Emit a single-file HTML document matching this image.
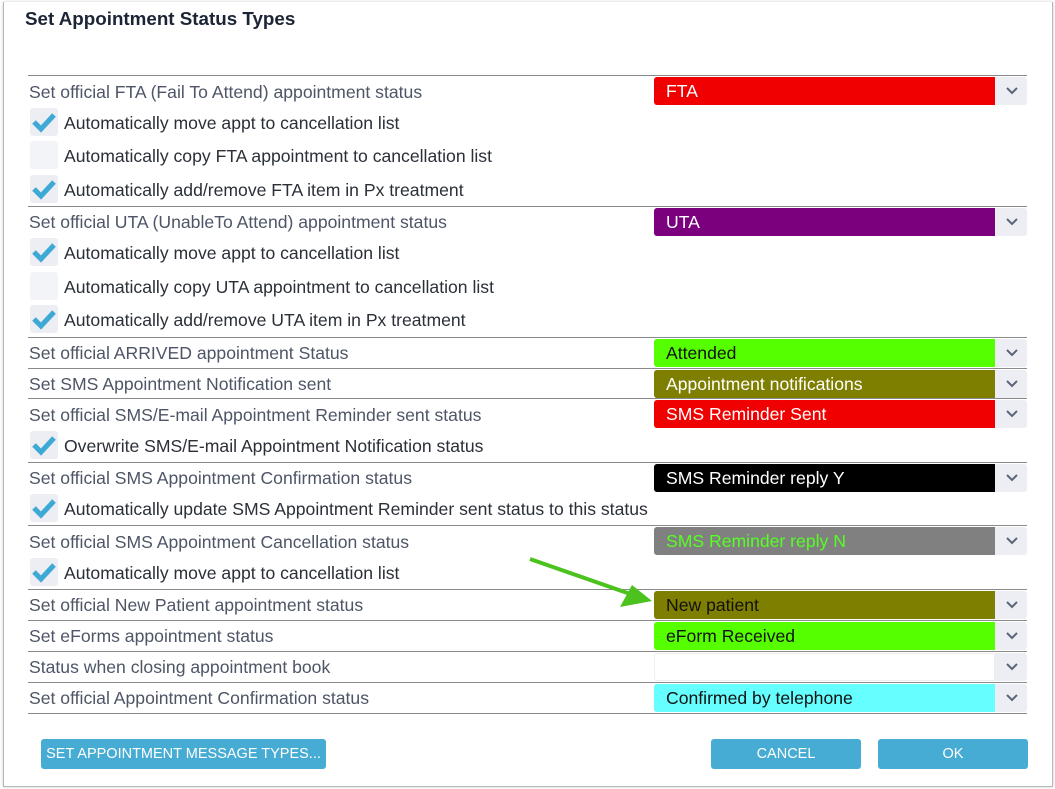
<!DOCTYPE html>
<html><head><meta charset="utf-8">
<style>
body{margin:0;width:1055px;height:789px;background:#fff;position:relative;overflow:hidden;font-family:"Liberation Sans",sans-serif;}
.dlg{position:absolute;left:3px;top:2px;width:1048px;height:784px;border:1px solid #b8b8b8;border-top:none;box-shadow:0 0 3px #ccc;}
.title{position:absolute;left:25px;top:8px;font-size:18.8px;font-weight:bold;color:#1b2535;}
.line{position:absolute;left:28px;width:999px;height:1px;background:#8a8a8a;}
.lbl{position:absolute;left:29px;font-size:17.6px;color:#4d5566;line-height:20px;white-space:nowrap;}
.cb{position:absolute;left:30px;width:28px;height:28px;background:#eceef3;border-radius:3px;}
.cbl{position:absolute;left:64px;font-size:17.6px;color:#2a2f38;line-height:20px;white-space:nowrap;}
.sel{position:absolute;left:654px;width:373px;height:28px;background:#eceef3;border-radius:3px;}
.sv{position:absolute;left:0;top:0;width:341px;height:28px;border-radius:3px 0 0 3px;font-size:17.6px;line-height:28px;padding-left:12px;box-sizing:border-box;white-space:nowrap;}
.arr{position:absolute;left:351px;top:9px;}
.btn{position:absolute;top:739px;height:30px;background:#46acd3;color:#fff;border-radius:3px;font-size:14.5px;text-align:center;line-height:30px;}
</style></head><body>
<div class="dlg"></div>
<div class="title">Set Appointment Status Types</div>
<div id="c"></div>
<svg style="position:absolute;left:0;top:0" width="1055" height="789">
<line x1="530" y1="559" x2="636" y2="596" stroke="#4cc21e" stroke-width="4"/>
<polygon points="652,601 620,607 632,585" fill="#4cc21e"/>
</svg>
<div class="btn" style="left:41px;width:285px">SET APPOINTMENT MESSAGE TYPES...</div>
<div class="btn" style="left:711px;width:150px">CANCEL</div>
<div class="btn" style="left:878px;width:150px">OK</div>
<script>
const c=document.getElementById('c');
const rows=[
 [75,92,'Set official FTA (Fail To Attend) appointment status','FTA','#f00000','#fff'],
 [206,222,'Set official UTA (UnableTo Attend) appointment status','UTA','#7a007d','#fff'],
 [337,353,'Set official ARRIVED appointment Status','Attended','#55ff00','#111'],
 [368,384,'Set SMS Appointment Notification sent','Appointment notifications','#7e7e00','#fff'],
 [398,415,'Set official SMS/E-mail Appointment Reminder sent status','SMS Reminder Sent','#f00000','#fff'],
 [462,478,'Set official SMS Appointment Confirmation status','SMS Reminder reply Y','#000','#fff'],
 [525,542,'Set official SMS Appointment Cancellation status','SMS Reminder reply N','#808080','#55ff22'],
 [589,605,'Set official New Patient appointment status','New patient','#7e7e00','#111'],
 [620,636,'Set eForms appointment status','eForm Received','#55ff00','#111'],
 [651,667,'Status when closing appointment book','','#fff','#111'],
 [682,698,'Set official Appointment Confirmation status','Confirmed by telephone','#66ffff','#111']
];
rows.forEach(r=>{
 const l=document.createElement('div');l.className='line';l.style.top=r[0]+'px';
 
 
 c.appendChild(l);
 const t=document.createElement('div');t.className='lbl';t.style.top=(r[1]-10)+'px';t.textContent=r[2];
 
 
 c.appendChild(t);
 const s=document.createElement('div');s.className='sel';s.style.top=(r[0]+2)+'px';
 
 
 s.innerHTML='<div class="sv" style="background:'+r[4]+';color:'+r[5]+(r[4]=='#fff'?';border:1px solid #eee':'')+'">'+r[3]+'</div><svg class="arr" width="14" height="10"><path d="M2 2 L7 7 L12 2" stroke="#5c6578" stroke-width="2" fill="none"/></svg>';
 c.appendChild(s);
});
const bl=document.createElement('div');bl.className='line';bl.style.top='713px';


c.appendChild(bl);
const cbs=[
 [123,true,'Automatically move appt to cancellation list'],
 [156,false,'Automatically copy FTA appointment to cancellation list'],
 [190,true,'Automatically add/remove FTA item in Px treatment'],
 [253,true,'Automatically move appt to cancellation list'],
 [287,false,'Automatically copy UTA appointment to cancellation list'],
 [320,true,'Automatically add/remove UTA item in Px treatment'],
 [446,true,'Overwrite SMS/E-mail Appointment Notification status'],
 [509,true,'Automatically update SMS Appointment Reminder sent status to this status'],
 [573,true,'Automatically move appt to cancellation list']
];
cbs.forEach(r=>{
 const b=document.createElement('div');b.className='cb';b.style.top=(r[0]-15)+'px';
 
 
 if(r[1])b.innerHTML='<svg width="28" height="28"><path d="M4 14 L11 21 L24 7" stroke="#3fa9d6" stroke-width="5" fill="none"/></svg>';
 else b.style.background='#f3f4f7';
 c.appendChild(b);
 const t=document.createElement('div');t.className='cbl';t.style.top=(r[0]-10)+'px';t.textContent=r[2];
 
 
 c.appendChild(t);
});
</script>
</body></html>
